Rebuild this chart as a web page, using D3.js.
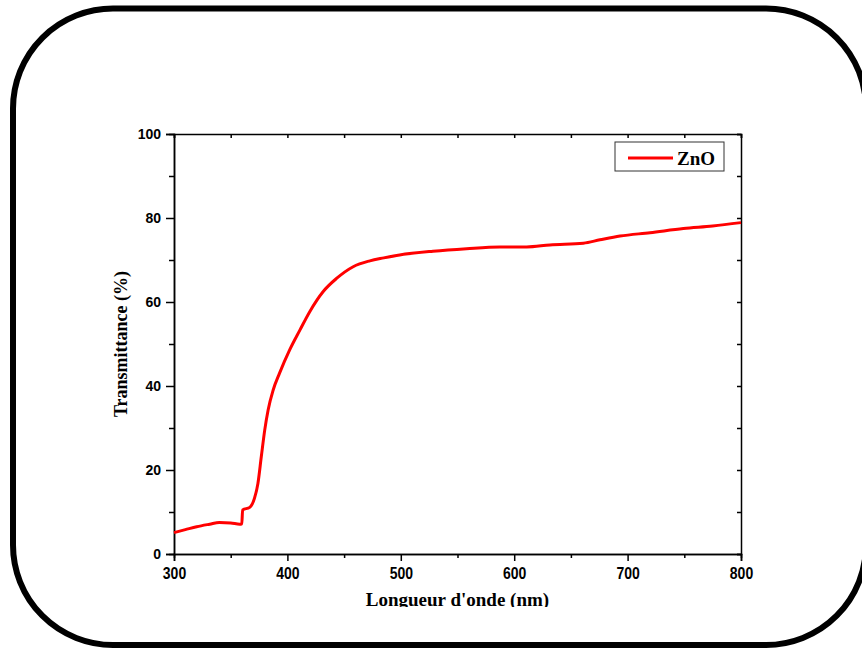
<!DOCTYPE html>
<html>
<head>
<meta charset="utf-8">
<script src="https://cdn.jsdelivr.net/npm/d3@7"></script>
<style>
  body { margin: 0; background: #fff; }
  svg { display: block; }
</style>
</head>
<body>
<script>
// ZnO transmittance spectrum
var wavelength = [300, 310, 320, 331.5, 340, 350, 358, 359.8, 360.5, 366.8, 371, 374, 377, 380, 383, 387.4, 393, 402, 411, 419.7, 431.6, 443.3, 458, 472.7, 485, 499, 528.4, 558, 587.4, 611, 631.5, 661, 675.6, 693.3, 719.8, 749.2, 775, 800]
var transmittance = [5.1, 5.8, 6.5, 7.1, 7.5, 7.4, 7.1, 7.2, 10.5, 11.1, 13.3, 16.8, 23.2, 29.5, 34.3, 39, 43, 48.6, 53.3, 57.7, 62.5, 65.6, 68.4, 69.8, 70.5, 71.2, 72.1, 72.7, 73.1, 73.1, 73.6, 74, 74.8, 75.7, 76.5, 77.5, 78.1, 78.9]
var xTicks = [300, 400, 500, 600, 700, 800]
var yTicks = [0, 20, 40, 60, 80, 100]
var seriesName = 'ZnO'

var data = wavelength.map((w, i) => { return {x: w, y: transmittance[i]} })

var width = 862
var height = 650
var margin = {left: 174, right: 121, top: 134, bottom: 96}
var w = width - margin.left - margin.right
var h = height - margin.top - margin.bottom

var svg = d3.select('body').append('svg').attr('width', width).attr('height', height)

// rounded frame around the whole figure
svg.append('rect')
	.attr('x', 13).attr('y', 8.5)
	.attr('width', 853).attr('height', 636.5)
	.attr('rx', 100).attr('ry', 100)
	.attr('fill', 'none')
	.attr('stroke', '#000')
	.attr('stroke-width', 6)

var x = d3.scaleLinear().domain([300, 800]).range([0, w])
var y = d3.scaleLinear().domain([0, 100]).range([h, 0])

var g = svg.append('g').attr('transform', 'translate(' + margin.left + ',' + margin.top + ')')

var tickFont = 'Liberation Sans, Arial, sans-serif'
var titleFont = 'Liberation Serif, Times New Roman, serif'

// minor ticks
var xMinor = d3.range(350, 800, 100)
var yMinor = d3.range(10, 100, 20)

function styleAxis(sel) {
	sel.select('.domain').attr('stroke-width', 1.5)
	sel.selectAll('.tick line').attr('stroke-width', 1.5)
	sel.selectAll('text')
		.attr('font-family', tickFont)
		.attr('font-weight', 'bold')
		.attr('font-size', 14)
		.attr('fill', '#000')
}

// bottom axis
g.append('g').attr('transform', 'translate(0,' + h + ')')
	.call(d3.axisBottom(x).tickValues(xMinor).tickSize(4).tickFormat(''))
	.call(styleAxis)
var xAxisG = g.append('g').attr('transform', 'translate(0,' + h + ')')
	.call(d3.axisBottom(x).tickValues(xTicks).tickSize(7).tickPadding(4))
	.call(styleAxis)
xAxisG.selectAll('text').attr('transform', 'scale(1,1.2)')

// left axis
g.append('g')
	.call(d3.axisLeft(y).tickValues(yMinor).tickSize(5).tickFormat(''))
	.call(styleAxis)
g.append('g')
	.call(d3.axisLeft(y).tickValues(yTicks).tickSize(8).tickPadding(5))
	.call(styleAxis)

// top and right mirror axes, inward ticks
g.append('g')
	.call(d3.axisBottom(x).tickValues(xTicks.concat(xMinor)).tickSize(4).tickFormat(''))
	.call(styleAxis)
g.append('g').attr('transform', 'translate(' + w + ',0)')
	.call(d3.axisLeft(y).tickValues(yTicks.concat(yMinor)).tickSize(4).tickFormat(''))
	.call(styleAxis)

// curve
var line = d3.line()
	.x((d) => { return x(d.x) })
	.y((d) => { return y(d.y) })
	.curve(d3.curveMonotoneX)

g.append('path').attr('d', line(data))
	.attr('fill', 'none')
	.attr('stroke', '#ff0000')
	.attr('stroke-width', 3)
	.attr('stroke-linejoin', 'round')

// axis titles (x title is cut at the bottom like in the source figure)
svg.append('clipPath').attr('id', 'cut')
	.append('rect').attr('x', 0).attr('y', 0).attr('width', width).attr('height', 607)

svg.append('text')
	.attr('x', margin.left + w / 2).attr('y', 606)
	.attr('text-anchor', 'middle')
	.attr('clip-path', 'url(#cut)')
	.attr('font-family', titleFont)
	.attr('font-weight', 'bold')
	.attr('font-size', 19)
	.text("Longueur d'onde (nm)")

svg.append('text')
	.attr('transform', 'translate(127,' + (margin.top + h / 2) + ') rotate(-90)')
	.attr('text-anchor', 'middle')
	.attr('font-family', titleFont)
	.attr('font-weight', 'bold')
	.attr('font-size', 18)
	.text('Transmittance (%)')

// legend
var legend = svg.append('g').attr('transform', 'translate(615,142)')
legend.append('rect')
	.attr('width', 109).attr('height', 29)
	.attr('fill', '#fff')
	.attr('stroke', '#333')
	.attr('stroke-width', 1)
legend.append('line')
	.attr('x1', 13).attr('x2', 58)
	.attr('y1', 16).attr('y2', 16)
	.attr('stroke', '#ff0000')
	.attr('stroke-width', 3)
legend.append('text')
	.attr('x', 62).attr('y', 23)
	.attr('font-family', titleFont)
	.attr('font-weight', 'bold')
	.attr('font-size', 19)
	.text(seriesName)
</script>
</body>
</html>
